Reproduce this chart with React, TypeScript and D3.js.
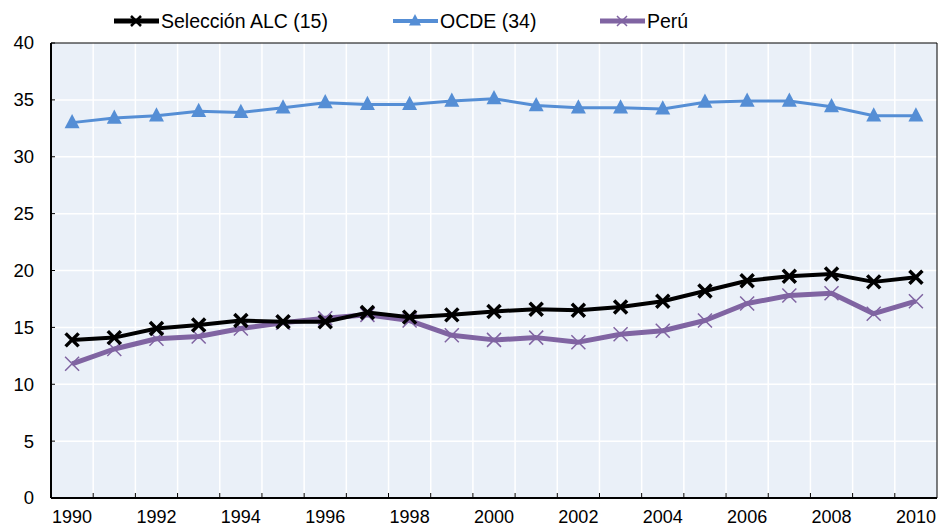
import React, { useEffect, useRef } from "react";
import * as d3 from "d3";

const years = [
  "1990", "1991", "1992", "1993", "1994", "1995", "1996", "1997", "1998", "1999", "2000",
  "2001", "2002", "2003", "2004", "2005", "2006", "2007", "2008", "2009", "2010",
];
const alc = [
  13.9, 14.1, 14.9, 15.2, 15.6, 15.5, 15.5, 16.3, 15.9, 16.1, 16.4,
  16.6, 16.5, 16.8, 17.3, 18.2, 19.1, 19.5, 19.7, 19.0, 19.4,
];
const ocde = [
  33.0, 33.4, 33.6, 34.0, 33.9, 34.3, 34.75, 34.6, 34.6, 34.9, 35.1,
  34.5, 34.3, 34.3, 34.2, 34.8, 34.9, 34.9, 34.4, 33.6, 33.6,
];
const peru = [
  11.8, 13.1, 14.0, 14.2, 14.9, 15.4, 15.8, 16.1, 15.6, 14.3, 13.9,
  14.1, 13.7, 14.4, 14.7, 15.6, 17.1, 17.8, 18.0, 16.2, 17.3,
];
const yTicks = [0, 5, 10, 15, 20, 25, 30, 35, 40];
const seriesNames = ["Selección ALC (15)", "OCDE (34)", "Perú"];

const W = 948;
const H = 529;
const FONT = "'Liberation Sans', Arial, sans-serif";

export default function App() {
  const svgRef = useRef<SVGSVGElement>(null);

  useEffect(() => {
    const svg = d3.select(svgRef.current);
    svg.selectAll("*").remove();

    const m = { left: 51, right: 11, top: 43, bottom: 31 };
    const x = d3.scaleBand().domain(years).range([m.left, W - m.right]);
    const y = d3.scaleLinear().domain([0, 40]).range([H - m.bottom, m.top]);
    const cx = (d: string) => (x(d) as number) + x.bandwidth() / 2;

    // plot background
    svg.append("rect")
      .attr("x", m.left).attr("y", m.top)
      .attr("width", W - m.left - m.right).attr("height", H - m.top - m.bottom)
      .attr("fill", "#eaf0f8");

    // grid
    svg.append("g").selectAll("line").data(yTicks.slice(1, -1)).join("line")
      .attr("x1", m.left).attr("x2", W - m.right)
      .attr("y1", (d) => y(d)).attr("y2", (d) => y(d))
      .attr("stroke", "#fff").attr("stroke-width", 1.5);
    svg.append("g").selectAll("line").data(years.slice(1)).join("line")
      .attr("x1", (d) => x(d) as number).attr("x2", (d) => x(d) as number)
      .attr("y1", m.top).attr("y2", H - m.bottom)
      .attr("stroke", "#fff").attr("stroke-width", 1.5);

    // frame
    svg.append("line").attr("x1", m.left).attr("x2", W - m.right)
      .attr("y1", m.top).attr("y2", m.top).attr("stroke", "#000").attr("stroke-width", 1);
    svg.append("line").attr("x1", W - m.right).attr("x2", W - m.right)
      .attr("y1", m.top).attr("y2", H - m.bottom).attr("stroke", "#000").attr("stroke-width", 1);

    // y axis
    const yAxis = svg.append("g");
    yAxis.append("line").attr("x1", m.left).attr("x2", m.left)
      .attr("y1", m.top).attr("y2", H - m.bottom).attr("stroke", "#000").attr("stroke-width", 2);
    yAxis.selectAll("line.t").data(yTicks).join("line").attr("class", "t")
      .attr("x1", m.left).attr("x2", m.left + 4)
      .attr("y1", (d) => y(d)).attr("y2", (d) => y(d)).attr("stroke", "#000");
    yAxis.selectAll("text").data(yTicks).join("text")
      .attr("x", 34).attr("y", (d) => y(d)).attr("dy", "0.35em")
      .attr("text-anchor", "end").attr("font-family", FONT).attr("font-size", 18.5)
      .text((d) => d);

    // x axis
    const xAxis = svg.append("g");
    xAxis.selectAll("line.t").data(years.slice(1)).join("line").attr("class", "t")
      .attr("x1", (d) => x(d) as number).attr("x2", (d) => x(d) as number)
      .attr("y1", H - m.bottom - 5).attr("y2", H - m.bottom).attr("stroke", "#000");
    xAxis.append("line").attr("x1", m.left).attr("x2", W - m.right)
      .attr("y1", H - m.bottom).attr("y2", H - m.bottom).attr("stroke", "#000").attr("stroke-width", 2);
    xAxis.selectAll("text").data(years.filter((d, i) => i % 2 === 0)).join("text")
      .attr("x", cx).attr("y", H - 6)
      .attr("text-anchor", "middle").attr("font-family", FONT).attr("font-size", 18)
      .text((d) => d);

    const line = d3.line<number>().x((d, i) => cx(years[i])).y((d) => y(d));

    const cross = (g: any, px: number, py: number, r: number, color: string, sw: number) => {
      g.append("path")
        .attr("d", `M${px - r},${py - r}L${px + r},${py + r}M${px - r},${py + r}L${px + r},${py - r}`)
        .attr("stroke", color).attr("stroke-width", sw).attr("fill", "none");
    };
    const tri = (g: any, px: number, py: number, r: number, color: string) => {
      g.append("path")
        .attr("d", `M${px},${py - r * 1.15}L${px + r},${py + r * 0.75}L${px - r},${py + r * 0.75}Z`)
        .attr("fill", color);
    };

    // OCDE
    const gO = svg.append("g");
    gO.append("path").attr("d", line(ocde)).attr("fill", "none")
      .attr("stroke", "#558ed5").attr("stroke-width", 3);
    ocde.forEach((v, i) => tri(gO, cx(years[i]), y(v), 7.5, "#558ed5"));

    // Perú
    const gP = svg.append("g");
    gP.append("path").attr("d", line(peru)).attr("fill", "none")
      .attr("stroke", "#8064a2").attr("stroke-width", 5).attr("stroke-linejoin", "round");
    peru.forEach((v, i) => cross(gP, cx(years[i]), y(v), 7, "#8064a2", 1.5));

    // ALC
    const gA = svg.append("g");
    gA.append("path").attr("d", line(alc)).attr("fill", "none")
      .attr("stroke", "#000").attr("stroke-width", 4).attr("stroke-linejoin", "round");
    alc.forEach((v, i) => cross(gA, cx(years[i]), y(v), 6.5, "#000", 3.5));

    // legend
    const lg = svg.append("g");
    const items = [
      { x0: 114, color: "#000", sw: 5, mark: "x" },
      { x0: 393, color: "#558ed5", sw: 4, mark: "t" },
      { x0: 600, color: "#8064a2", sw: 5, mark: "p" },
    ];
    items.forEach((it, i) => {
      const ly = 21;
      lg.append("line").attr("x1", it.x0).attr("x2", it.x0 + 45)
        .attr("y1", ly).attr("y2", ly).attr("stroke", it.color).attr("stroke-width", it.sw);
      if (it.mark === "x") cross(lg, it.x0 + 22, ly, 5, "#000", 2.5);
      if (it.mark === "t") tri(lg, it.x0 + 22, ly, 6, it.color);
      if (it.mark === "p") cross(lg, it.x0 + 22, ly, 5, it.color, 1.5);
      lg.append("text").attr("x", it.x0 + 47).attr("y", ly).attr("dy", "0.35em")
        .attr("font-family", FONT).attr("font-size", 19.5).text(seriesNames[i]);
    });
  }, []);

  return (
    <svg
      ref={svgRef}
      width={W}
      height={H}
      style={{ position: "absolute", left: 0, top: 0, display: "block", background: "#fff" }}
    ></svg>
  );
}
